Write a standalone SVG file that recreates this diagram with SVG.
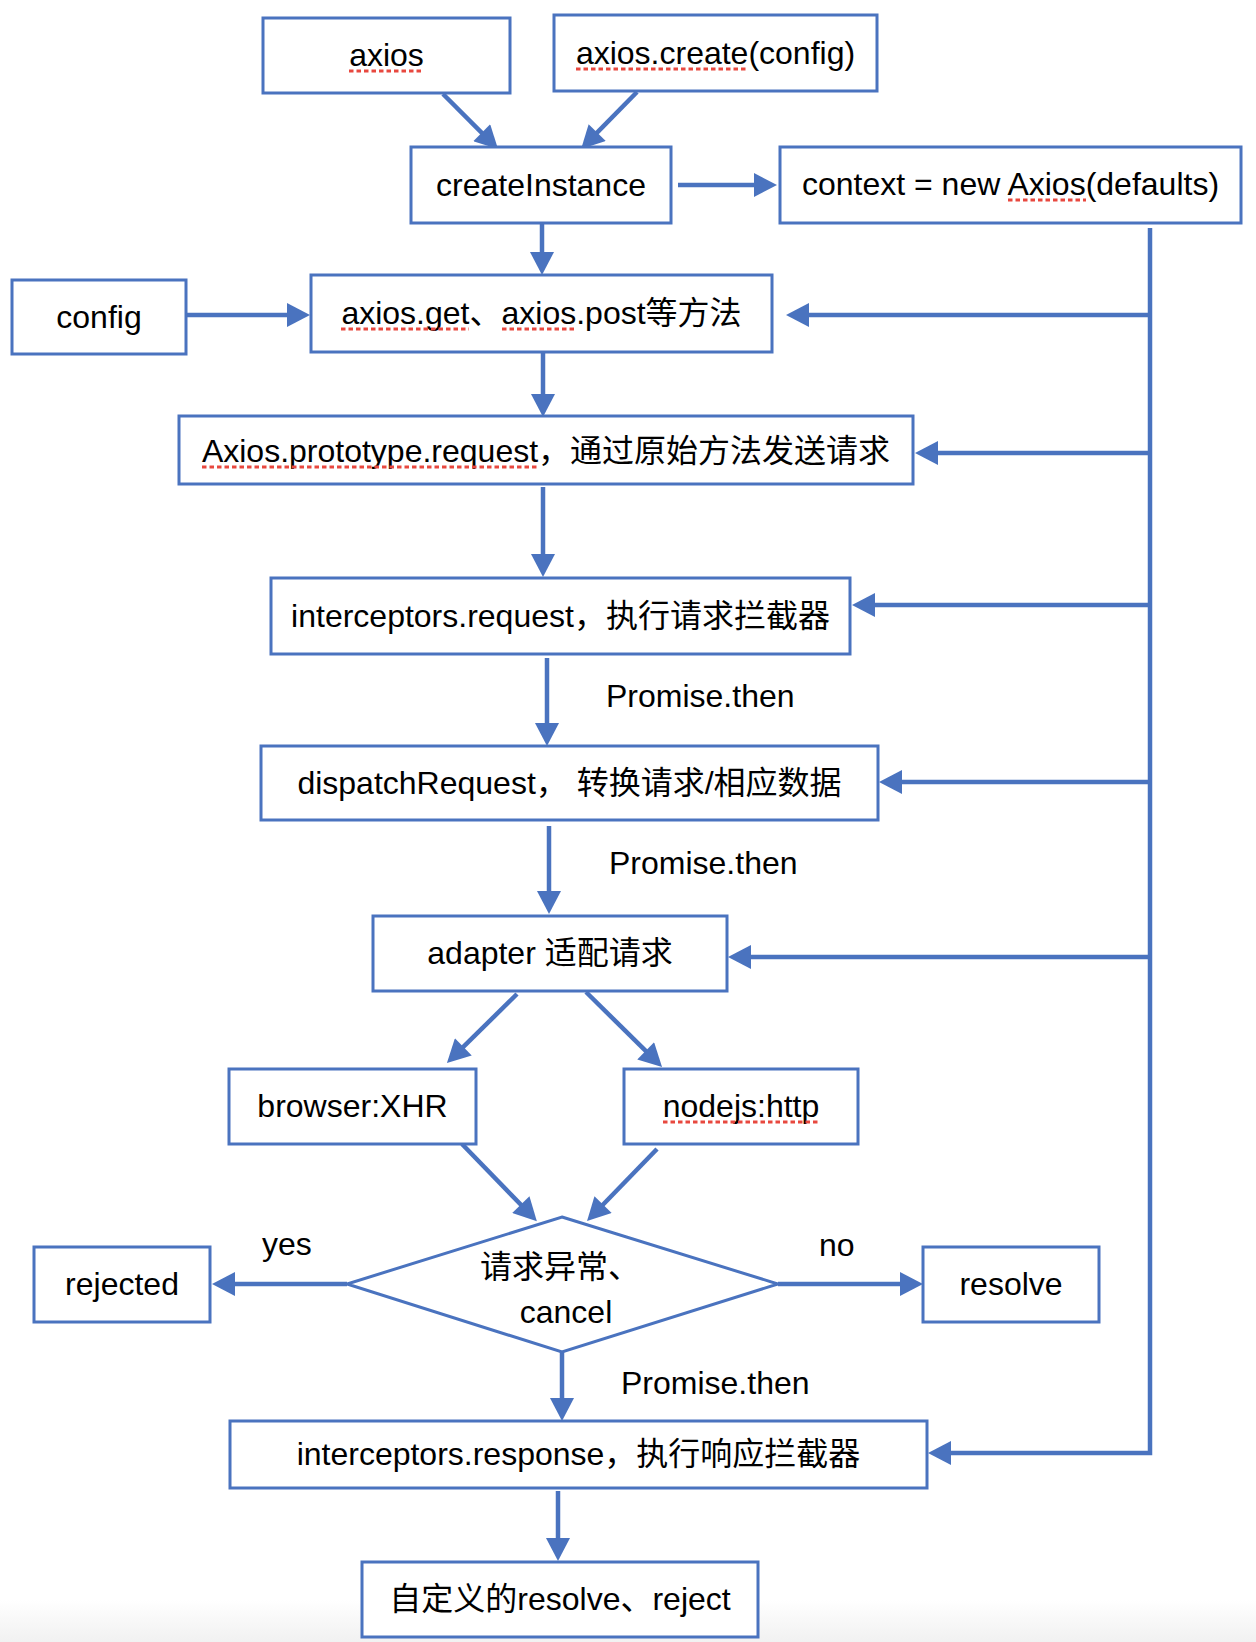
<svg xmlns="http://www.w3.org/2000/svg" width="1256" height="1642" viewBox="0 0 1256 1642">
<style>
.box{fill:#fff;stroke:#4A73BF;stroke-width:3}
.dia{fill:#fff;stroke:#4A73BF;stroke-width:3}
.t{font-family:"Liberation Sans","Noto Sans CJK SC",sans-serif;font-size:32px;fill:#000}
.c{text-anchor:middle}
.ln{fill:none;stroke:#4A73BF;stroke-width:4.5}
.sp{fill:none;stroke:#E8483F;stroke-width:3;stroke-dasharray:4.5 3}
</style>
<defs>
<marker id="ah" markerUnits="userSpaceOnUse" markerWidth="24" markerHeight="24" viewBox="0 0 23 24" refX="10" refY="12" orient="auto">
<path d="M0,0 L23,12 L0,24 z" fill="#4A73BF"/>
</marker>
<linearGradient id="bg" x1="0" y1="0" x2="0" y2="1">
<stop offset="0" stop-color="#fff"/>
<stop offset="1" stop-color="#f1f1f1"/>
</linearGradient>
</defs>
<rect width="1256" height="1642" fill="#fff"/>
<rect x="0" y="1600" width="1256" height="42" fill="url(#bg)"/>

<g id="connectors">
<line class="ln" x1="443" y1="94" x2="488.8" y2="139.8" marker-end="url(#ah)"/>
<line class="ln" x1="637" y1="92" x2="590.2" y2="139.7" marker-end="url(#ah)"/>
<line class="ln" x1="678" y1="185" x2="764" y2="185" marker-end="url(#ah)"/>
<line class="ln" x1="542" y1="223" x2="542" y2="262" marker-end="url(#ah)"/>
<line class="ln" x1="186" y1="315" x2="297" y2="315" marker-end="url(#ah)"/>
<line class="ln" x1="543" y1="353" x2="543" y2="404" marker-end="url(#ah)"/>
<line class="ln" x1="543" y1="487" x2="543" y2="564" marker-end="url(#ah)"/>
<line class="ln" x1="547" y1="658" x2="547" y2="733" marker-end="url(#ah)"/>
<line class="ln" x1="549" y1="826" x2="549" y2="901" marker-end="url(#ah)"/>
<line class="ln" x1="517" y1="994" x2="456.2" y2="1053.9" marker-end="url(#ah)"/>
<line class="ln" x1="586" y1="992" x2="652.8" y2="1057.9" marker-end="url(#ah)"/>
<line class="ln" x1="462" y1="1144" x2="527.8" y2="1211.8" marker-end="url(#ah)"/>
<line class="ln" x1="657" y1="1149" x2="596.1" y2="1211.7" marker-end="url(#ah)"/>
<line class="ln" x1="347" y1="1284" x2="225" y2="1284" marker-end="url(#ah)"/>
<line class="ln" x1="778" y1="1284" x2="910" y2="1284" marker-end="url(#ah)"/>
<line class="ln" x1="562" y1="1352" x2="562" y2="1408" marker-end="url(#ah)"/>
<line class="ln" x1="558" y1="1491" x2="558" y2="1548" marker-end="url(#ah)"/>
<path class="ln" d="M1150,228 V1453 H941" marker-end="url(#ah)"/>
<line class="ln" x1="1150" y1="315" x2="799" y2="315" marker-end="url(#ah)"/>
<line class="ln" x1="1150" y1="453" x2="928" y2="453" marker-end="url(#ah)"/>
<line class="ln" x1="1150" y1="605" x2="865" y2="605" marker-end="url(#ah)"/>
<line class="ln" x1="1150" y1="782" x2="892" y2="782" marker-end="url(#ah)"/>
<line class="ln" x1="1150" y1="957" x2="741" y2="957" marker-end="url(#ah)"/>
</g>

<g id="labels">
<text class="t" x="606" y="707">Promise.then</text>
<text class="t" x="609" y="874">Promise.then</text>
<text class="t" x="621" y="1394">Promise.then</text>
<text class="t" x="262" y="1255">yes</text>
<text class="t" x="819" y="1256">no</text>
</g>

<g id="n-axios">
<rect class="box" x="263" y="18" width="247" height="75"/>
<text class="t c" x="386.5" y="66">axios</text>
<line class="sp" x1="349" y1="71" x2="424" y2="71"/>
</g>
<g id="n-create">
<rect class="box" x="554" y="15" width="323" height="76"/>
<text class="t c" x="715.5" y="64">axios.create(config)</text>
<line class="sp" x1="576" y1="69" x2="748" y2="69"/>
</g>
<g id="n-createInstance">
<rect class="box" x="411" y="147" width="260" height="76"/>
<text class="t c" x="541" y="196">createInstance</text>
</g>
<g id="n-context">
<rect class="box" x="780" y="147" width="461" height="76"/>
<text class="t c" x="1010.5" y="195">context = new Axios(defaults)</text>
<line class="sp" x1="1008" y1="200" x2="1086" y2="200"/>
</g>
<g id="n-config">
<rect class="box" x="12" y="280" width="174" height="74"/>
<text class="t c" x="99" y="328">config</text>
</g>
<g id="n-methods">
<rect class="box" x="311" y="275" width="461" height="77"/>
<text class="t c" x="541.5" y="324">axios.get、axios.post等方法</text>
<line class="sp" x1="341" y1="329" x2="469" y2="329"/>
<line class="sp" x1="502" y1="329" x2="576" y2="329"/>
</g>
<g id="n-request">
<rect class="box" x="179" y="416" width="734" height="68"/>
<text class="t c" x="546" y="462">Axios.prototype.request，通过原始方法发送请求</text>
<line class="sp" x1="202" y1="467" x2="538" y2="467"/>
</g>
<g id="n-interceptors-request">
<rect class="box" x="271" y="578" width="579" height="76"/>
<text class="t c" x="560.5" y="627">interceptors.request，执行请求拦截器</text>
</g>
<g id="n-dispatch">
<rect class="box" x="261" y="746" width="617" height="74"/>
<text class="t c" x="569.5" y="794">dispatchRequest， 转换请求/相应数据</text>
</g>
<g id="n-adapter">
<rect class="box" x="373" y="916" width="354" height="75"/>
<text class="t c" x="550" y="964">adapter 适配请求</text>
</g>
<g id="n-xhr">
<rect class="box" x="229" y="1069" width="247" height="75"/>
<text class="t c" x="352.5" y="1117">browser:XHR</text>
</g>
<g id="n-http">
<rect class="box" x="624" y="1069" width="234" height="75"/>
<text class="t c" x="741" y="1117">nodejs:http</text>
<line class="sp" x1="663" y1="1122" x2="819" y2="1122"/>
</g>
<g id="n-decision">
<polygon class="dia" points="562,1217 778,1284 562,1352 347,1284"/>
<text class="t" x="480" y="1278">请求异常、</text>
<text class="t c" x="566" y="1323">cancel</text>
</g>
<g id="n-rejected">
<rect class="box" x="34" y="1247" width="176" height="75"/>
<text class="t c" x="122" y="1295">rejected</text>
</g>
<g id="n-resolve">
<rect class="box" x="923" y="1247" width="176" height="75"/>
<text class="t c" x="1011" y="1295">resolve</text>
</g>
<g id="n-interceptors-response">
<rect class="box" x="230" y="1421" width="697" height="67"/>
<text class="t c" x="578.5" y="1465">interceptors.response，执行响应拦截器</text>
</g>
<g id="n-custom">
<rect class="box" x="362" y="1562" width="396" height="75"/>
<text class="t c" x="560" y="1610">自定义的resolve、reject</text>
</g>
</svg>
